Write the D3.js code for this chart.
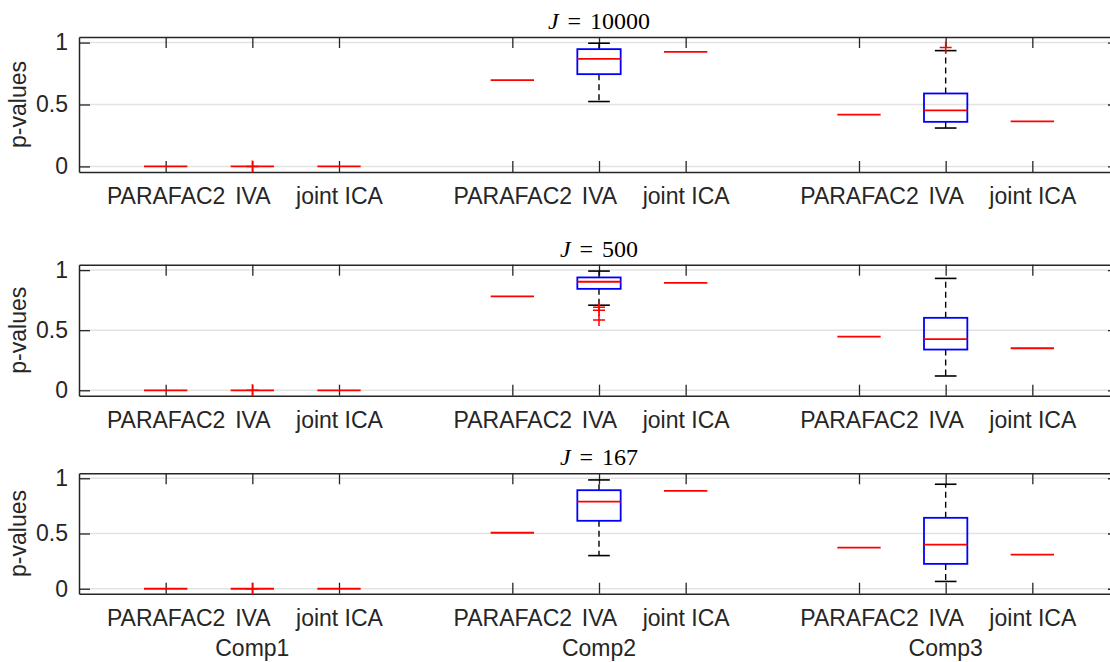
<!DOCTYPE html>
<html>
<head>
<meta charset="utf-8">
<script src="https://cdn.jsdelivr.net/npm/d3@7"></script>
<style>
  body { margin: 0; background: #fff; }
  svg { display: block; font-family: "Liberation Sans", Arial, sans-serif; }
</style>
</head>
<body>
<svg width="1110" height="662"></svg>
<script>
// data
const titles = ["10000", "500", "167"];
const methods = ["PARAFAC2", "IVA", "joint ICA"];
const comps = ["Comp1", "Comp2", "Comp3"];
const yTicks = [0, 0.5, 1];

// one value per comp, per panel
const parafac2Vals = [
  [0, 0.697, 0.419],
  [0, 0.781, 0.447],
  [0, 0.507, 0.372]
];
const jointIcaVals = [
  [0, 0.925, 0.363],
  [0, 0.894, 0.350],
  [0, 0.886, 0.309]
];
// IVA box stats: [lower whisker, q1, median, q3, upper whisker]
const ivaStats = [
  [[0, 0, 0, 0, 0], [0.524, 0.745, 0.869, 0.947, 0.995], [0.310, 0.360, 0.452, 0.589, 0.935]],
  [[0, 0, 0, 0, 0], [0.708, 0.844, 0.903, 0.939, 0.992], [0.119, 0.339, 0.425, 0.603, 0.931]],
  [[0, 0, 0, 0, 0], [0.300, 0.615, 0.789, 0.892, 0.985], [0.066, 0.225, 0.399, 0.642, 0.946]]
];
const ivaOutliers = [
  [[0], [], [0.96]],
  [[0], [0.69, 0.665, 0.585], []],
  [[0], [], []]
];

const svg = d3.select("svg");
const ink = "#262626";
const fs = 23;

// layout of the three stacked axes
const left = 79, right = 1119;
const tops = [37, 264.7, 473.3];
const bottoms = [172, 395.7, 593.7];

const x = d3.scaleLinear().domain([0, 12]).range([left, right]);
const bw = x(0.5) - x(0);       // box width
const cw = x(0.25) - x(0);      // cap width
const pos = (c, m) => 1 + c * 4 + m;   // 1,2,3 | 5,6,7 | 9,10,11

const tickPos = [];
const tickLab = [];
comps.forEach((c, ci) => methods.forEach((m, mi) => {
  tickPos.push(pos(ci, mi));
  tickLab.push(m);
}));

titles.forEach((t, p) => {
  const y = d3.scaleLinear().domain([-0.045, 1.045]).range([bottoms[p], tops[p]]);
  const g = svg.append("g");

  // grid
  g.append("g")
    .selectAll("line")
    .data(yTicks)
    .join("line")
    .attr("x1", left).attr("x2", right)
    .attr("y1", d => y(d)).attr("y2", d => y(d))
    .attr("stroke", "#e3e3e3")
    .attr("stroke-width", 1.5);

  // axes (ticks point inward)
  const styleAxis = sel => {
    sel.selectAll("path").attr("stroke", ink).attr("stroke-width", 1.5);
    sel.selectAll("line").attr("stroke", ink).attr("stroke-width", 1.3);
    sel.selectAll("text").attr("fill", ink).attr("font-size", fs)
      .attr("font-family", "Liberation Sans, Arial, sans-serif");
  };

  g.append("g")
    .attr("transform", `translate(0,${bottoms[p]})`)
    .call(d3.axisBottom(x).tickValues(tickPos).tickFormat((d, i) => tickLab[i])
      .tickSizeInner(-11).tickSizeOuter(0).tickPadding(15.5))
    .call(styleAxis);

  g.append("g")
    .attr("transform", `translate(0,${tops[p]})`)
    .call(d3.axisTop(x).tickValues(tickPos).tickFormat("")
      .tickSizeInner(-11).tickSizeOuter(0))
    .call(styleAxis);

  g.append("g")
    .attr("transform", `translate(${left},0)`)
    .call(d3.axisLeft(y).tickValues(yTicks).tickFormat(d3.format("~g"))
      .tickSizeInner(-11).tickSizeOuter(0).tickPadding(11))
    .call(styleAxis);

  g.append("g")
    .attr("transform", `translate(${right},0)`)
    .call(d3.axisRight(y).tickValues(yTicks).tickFormat("")
      .tickSizeInner(-11).tickSizeOuter(0))
    .call(styleAxis);

  // y label
  g.append("text")
    .attr("transform", `translate(26,${(tops[p] + bottoms[p]) / 2}) rotate(-90)`)
    .attr("text-anchor", "middle")
    .attr("font-size", fs)
    .attr("fill", ink)
    .text("p-values");

  // title  J = n  (latex look)
  const title = g.append("text")
    .attr("x", x(6))
    .attr("y", tops[p] - 8)
    .attr("text-anchor", "middle")
    .attr("font-family", "Liberation Serif, Times New Roman, serif")
    .attr("font-size", 24)
    .attr("fill", "#000");
  title.append("tspan").attr("font-style", "italic").text("J");
  title.append("tspan").attr("dx", 9).text("=");
  title.append("tspan").attr("dx", 9).text(t);

  const marks = g.append("g");

  comps.forEach((c, ci) => {
    // single-value methods: just a median line
    [[0, parafac2Vals[p][ci]], [2, jointIcaVals[p][ci]]].forEach(([mi, v]) => {
      const cx = x(pos(ci, mi));
      marks.append("line")
        .attr("x1", cx - bw / 2).attr("x2", cx + bw / 2)
        .attr("y1", y(v)).attr("y2", y(v))
        .attr("stroke", "#ff0000").attr("stroke-width", 1.8);
    });

    // IVA box
    const [lo, q1, med, q3, hi] = ivaStats[p][ci];
    const cx = x(pos(ci, 1));
    if (q3 > q1) {
      // whiskers
      marks.append("line")
        .attr("x1", cx).attr("x2", cx).attr("y1", y(q3)).attr("y2", y(hi))
        .attr("stroke", "#000").attr("stroke-width", 1.4).attr("stroke-dasharray", "6,4");
      marks.append("line")
        .attr("x1", cx).attr("x2", cx).attr("y1", y(q1)).attr("y2", y(lo))
        .attr("stroke", "#000").attr("stroke-width", 1.4).attr("stroke-dasharray", "6,4");
      [lo, hi].forEach(v => {
        marks.append("line")
          .attr("x1", cx - cw / 2).attr("x2", cx + cw / 2)
          .attr("y1", y(v)).attr("y2", y(v))
          .attr("stroke", "#000").attr("stroke-width", 1.6);
      });
      marks.append("rect")
        .attr("x", cx - bw / 2).attr("width", bw)
        .attr("y", y(q3)).attr("height", y(q1) - y(q3))
        .attr("fill", "none")
        .attr("stroke", "#0000ff").attr("stroke-width", 1.8);
    }
    marks.append("line")
      .attr("x1", cx - bw / 2).attr("x2", cx + bw / 2)
      .attr("y1", y(med)).attr("y2", y(med))
      .attr("stroke", "#ff0000").attr("stroke-width", 1.8);

    // outliers as red +
    ivaOutliers[p][ci].forEach(v => {
      marks.append("path")
        .attr("d", `M${cx - 6},${y(v)}H${cx + 6}M${cx},${y(v) - 6}V${y(v) + 6}`)
        .attr("stroke", "#ff0000").attr("stroke-width", 1.5).attr("fill", "none");
    });
  });
});

// group labels under the last axes
svg.append("g")
  .selectAll("text")
  .data(comps)
  .join("text")
  .attr("x", (d, i) => x(pos(i, 1)))
  .attr("y", 656)
  .attr("text-anchor", "middle")
  .attr("font-size", fs)
  .attr("fill", ink)
  .text(d => d);
</script>
</body>
</html>
